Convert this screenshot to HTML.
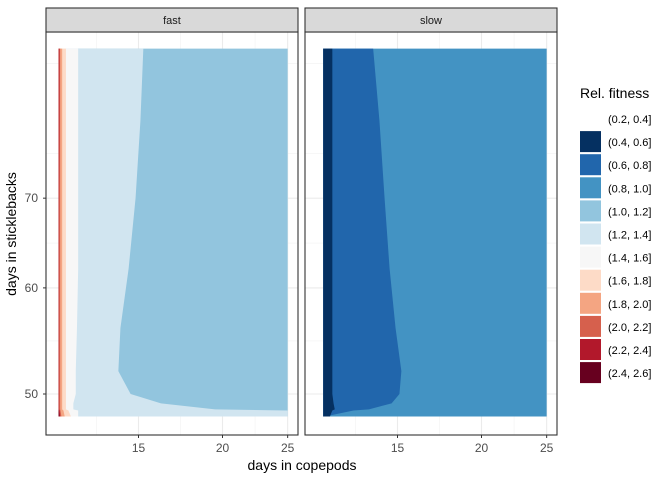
<!DOCTYPE html>
<html><head><meta charset="utf-8"><style>
body{margin:0;background:#fff;font-family:"Liberation Sans",Arial,sans-serif}
svg text{font-family:"Liberation Sans",Arial,sans-serif}
</style></head><body>
<svg id="chart" width="672" height="480" viewBox="0 0 672 480">
<rect width="672" height="480" fill="#fff"/>
<g id="grid"></g><g id="marks"></g><g id="frames"></g><g id="legend"></g>
</svg>
<script>
const ySamples=[48.1,48.6,48.7,49.2,50,52,56,62,70,80,90.5];
const fastBands=["(1.0, 1.2]","(1.2, 1.4]","(1.4, 1.6]","(1.6, 1.8]","(1.8, 2.0]","(2.0, 2.2]","(2.2, 2.4]","(2.4, 2.6]"];
const fast_10_12=[25,25,25,25,25,25,25,25,25,25,25];
const fast_12_14=[25,25,19.5,16.2,14.6,14.0,14.1,14.5,14.85,15.1,15.25];
const fast_14_16=[12.2,12.2,12.0,12.0,12.1,12.1,12.15,12.2,12.2,12.2,12.2];
const fast_16_18=[11.9,11.8,11.7,11.7,11.7,11.7,11.7,11.7,11.7,11.7,11.7];
const fast_18_20=[11.65,11.6,11.55,11.55,11.55,11.55,11.55,11.55,11.55,11.55,11.55];
const fast_20_22=[11.52,11.48,11.47,11.47,11.47,11.47,11.47,11.47,11.47,11.47,11.47];
const fast_22_24=[11.47,11.45,11.43,11.43,11.43,11.43,11.43,11.43,11.43,11.44,11.44];
const fast_24_26=[11.44,11.42,11.41,11.41,11.41,11.41,11.41,11.41,11.41,11.41,11.41];
const slowBands=["(0.8, 1.0]","(0.6, 0.8]","(0.4, 0.6]"];
const slow_08_10=[25,25,25,25,25,25,25,25,25,25,25];
const slow_06_08=[11.7,12.9,13.6,14.7,15.1,15.2,14.9,14.6,14.35,14.1,13.8];
const slow_04_06=[11.9,12.0,12.1,12.05,12.0,12.0,12.0,12.0,12.0,12.0,12.0];
const fastXMin=11.41, slowXMin=11.63;
const legendLabels=["(0.2, 0.4]","(0.4, 0.6]","(0.6, 0.8]","(0.8, 1.0]","(1.0, 1.2]","(1.2, 1.4]","(1.4, 1.6]","(1.6, 1.8]","(1.8, 2.0]","(2.0, 2.2]","(2.2, 2.4]","(2.4, 2.6]"];
const xTicks=[15,20,25]; const yTicks=[50,60,70];

const colors={"(0.2, 0.4]":"none","(0.4, 0.6]":"#053061","(0.6, 0.8]":"#2166AC","(0.8, 1.0]":"#4393C3","(1.0, 1.2]":"#92C5DE","(1.2, 1.4]":"#D1E5F0","(1.4, 1.6]":"#F7F7F7","(1.6, 1.8]":"#FDDBC7","(1.8, 2.0]":"#F4A582","(2.0, 2.2]":"#D6604D","(2.2, 2.4]":"#B2182B","(2.4, 2.6]":"#67001F"};
const NS="http://www.w3.org/2000/svg";
function xpx(v,off){return 138.5+off+292*Math.log(v/15);}
function ypx(v){return 394-582*Math.log(v/50);}
function mk(tag,attrs,parent){const e=document.createElementNS(NS,tag);for(const k in attrs)e.setAttribute(k,attrs[k]);parent.appendChild(e);return e;}
const grid=document.getElementById('grid'),marks=document.getElementById('marks'),frames=document.getElementById('frames'),legend=document.getElementById('legend');
const panels=[{off:0,x0:46,x1:298,name:'fast',xmin:fastXMin,bands:fastBands,vals:[fast_10_12,fast_12_14,fast_14_16,fast_16_18,fast_18_20,fast_20_22,fast_22_24,fast_24_26]},
{off:259,x0:305,x1:557,name:'slow',xmin:slowXMin,bands:slowBands,vals:[slow_08_10,slow_06_08,slow_04_06]}];
const yTop=32,yBot=435;
panels.forEach(p=>{
  const xMinor=[]; for(let i=0;i<xTicks.length;i++){const a=Math.log(xTicks[i]);const d=i>0?a-Math.log(xTicks[i-1]):Math.log(xTicks[1])-a;xMinor.push(Math.exp(a-d/2));}
  xMinor.push(Math.exp(Math.log(25)+(Math.log(25)-Math.log(20))/2));
  xMinor.forEach(v=>{const x=xpx(v,p.off);if(x>p.x0&&x<p.x1){const l=mk('line',{x1:x,x2:x,y1:yTop,y2:yBot,stroke:'#f2f2f2','stroke-width':0.6},grid);}});
  const yMinor=[];for(let i=0;i<yTicks.length;i++){const a=Math.log(yTicks[i]);const d=i>0?a-Math.log(yTicks[i-1]):Math.log(yTicks[1])-a;yMinor.push(Math.exp(a-d/2));}
  yMinor.push(Math.exp(Math.log(70)+(Math.log(70)-Math.log(60))/2));yMinor.push(Math.exp(Math.log(70)+1.5*(Math.log(70)-Math.log(60))));
  yMinor.forEach(v=>{const y=ypx(v);if(y>yTop&&y<yBot){const l=mk('line',{x1:p.x0,x2:p.x1,y1:y,y2:y,stroke:'#f2f2f2','stroke-width':0.6},grid);}});
  xTicks.forEach(v=>{const x=xpx(v,p.off);const l=mk('line',{x1:x,x2:x,y1:yTop,y2:yBot,stroke:'#ebebeb','stroke-width':1.1},grid);
    const t=mk('text',{x:x,y:452,'text-anchor':'middle','font-size':12,fill:'#4d4d4d'},frames);t.textContent=v;
    mk('line',{x1:x,x2:x,y1:yBot,y2:yBot+3,stroke:'#333'},frames);});
  yTicks.forEach(v=>{const y=ypx(v);const l=mk('line',{x1:p.x0,x2:p.x1,y1:y,y2:y,stroke:'#ebebeb','stroke-width':1.1},grid);});
  p.bands.forEach((b,i)=>{const arr=p.vals[i];let d='M'+xpx(p.xmin,p.off)+','+ypx(ySamples[0]);
    ySamples.forEach((y,j)=>{d+=' L'+xpx(arr[j],p.off)+','+ypx(y);});
    d+=' L'+xpx(p.xmin,p.off)+','+ypx(ySamples[ySamples.length-1])+' Z';
    const path=mk('path',{d:d,fill:colors[b]},marks);
    
    });
  const fr=mk('rect',{x:p.x0,y:yTop,width:p.x1-p.x0,height:yBot-yTop,fill:'none',stroke:'#333','stroke-width':1.1},frames);
  const st=mk('rect',{x:p.x0,y:8,width:p.x1-p.x0,height:yTop-8,fill:'#d9d9d9',stroke:'#333','stroke-width':1.1},frames);
  const stt=mk('text',{x:(p.x0+p.x1)/2,y:24,'text-anchor':'middle','font-size':11,fill:'#1a1a1a'},frames);stt.textContent=p.name;
});
yTicks.forEach(v=>{const y=ypx(v);const t=mk('text',{x:38,y:y+4,'text-anchor':'end','font-size':12,fill:'#4d4d4d'},frames);t.textContent=v;mk('line',{x1:43,x2:46,y1:y,y2:y,stroke:'#333'},frames);});
let t=mk('text',{x:302,y:470,'text-anchor':'middle','font-size':14,fill:'#000'},frames);t.textContent='days in copepods';
t=mk('text',{x:0,y:0,'text-anchor':'middle','font-size':14,fill:'#000',transform:'translate(16,234) rotate(-90)'},frames);t.textContent='days in sticklebacks';
t=mk('text',{x:580,y:98,'font-size':14,fill:'#000'},legend);t.textContent='Rel. fitness';
legendLabels.forEach((lab,i)=>{const y=107+i*23.1;const r=mk('rect',{x:580,y:y+1,width:21,height:21,fill:colors[lab]},legend);
  const tx=mk('text',{x:608,y:y+16,'font-size':11,fill:'#000'},legend);tx.textContent=lab;});
</script>
</body></html>
